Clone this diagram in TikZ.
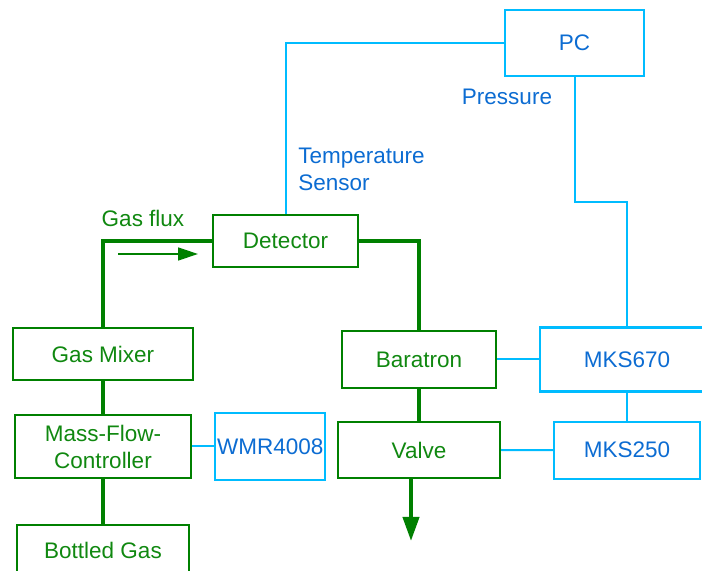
\documentclass[tikz,border=0pt]{standalone}
\usepackage{fontspec}
\setmainfont{Liberation Sans}
\usetikzlibrary{arrows.meta, positioning}
\definecolor{boxgreen}{RGB}{0,128,0}
\definecolor{txtgreen}{RGB}{16,136,16}
\definecolor{boxblue}{RGB}{0,188,255}
\definecolor{txtblue}{RGB}{12,108,210}

\begin{document}
\begin{tikzpicture}[
      x=0.5pt, y=-0.5pt,
      font=\fontsize{11.25}{13.5}\selectfont,
      gasbox/.style={rectangle, draw=boxgreen, line width=1pt, text=txtgreen, align=center, inner sep=1pt},
      ctrlbox/.style={rectangle, draw=boxblue, line width=1.1pt, text=txtblue, align=center, inner sep=1pt},
      pipe/.style={draw=boxgreen, line width=2pt},
      wire/.style={draw=boxblue, line width=1pt},
      flowarrow/.style={-{Triangle[length=10pt, width=6.5pt]}, draw=boxgreen, line width=0.7pt, fill=boxgreen}
    ]
    \useasboundingbox (0,0) rectangle (702,571);

    \node[ctrlbox, minimum width=69.5pt, minimum height=33pt] (pc) at (574.5,43) {PC};
    \node[gasbox, minimum width=72.5pt, minimum height=26pt] (det) at (285.5,241) {Detector};
    \node[gasbox, minimum width=90pt, minimum height=26pt] (mixer) at (103,354) {Gas Mixer};
    \node[gasbox, minimum width=88pt, minimum height=31.5pt, below=16.5pt of mixer] (mfc) {Mass-Flow-\\Controller};
    \node[gasbox, minimum width=86pt, minimum height=25pt, below=22.5pt of mfc] (bottle) {Bottled Gas};
    \node[ctrlbox, minimum width=55pt, minimum height=33.5pt, right=11pt of mfc] (wmr) {WMR4008};
    \node[gasbox, minimum width=77pt, minimum height=28.5pt] (bar) at (419,359.5) {Baratron};
    \node[gasbox, minimum width=81pt, minimum height=28pt, below=16pt of bar] (valve) {Valve};
    \node[ctrlbox, minimum width=87pt, minimum height=32pt, right=21pt of bar] (mks670) {MKS670};
    \node[ctrlbox, minimum width=73pt, minimum height=28.5pt, below=14pt of mks670] (mks250) {MKS250};

    \node[text=txtblue] (press) at (507,97) {Pressure};
    \node[text=txtblue, align=left, anchor=west, inner sep=0pt] (temp) at (298,169) {Temperature\\Sensor};
    \node[text=txtgreen] (flux) at (143,218) {Gas flux};
    \coordinate (fluxa) at (118,254);
    \coordinate (fluxb) at (198,254);
    \coordinate (exit) at (411,541);

    \draw[wire] (pc.west) -| (det.north);
    \draw[wire] (pc.south) -- ++(0,125) -| (mks670.north);
    \draw[wire] (mfc.east) -- (wmr.west);
    \draw[wire] (bar.east) -- (mks670.west);
    \draw[wire] (valve.east) -- (mks250.west);
    \draw[wire] (mks670.south) -- (mks250.north);

    \draw[pipe] (mixer.north) |- (det.west);
    \draw[pipe] (det.east) -| (bar.north);
    \draw[pipe] (mixer.south) -- (mfc.north);
    \draw[pipe] (mfc.south) -- (bottle.north);
    \draw[pipe] (bar.south) -- (valve.north);
    \draw[pipe, -{Triangle[length=12pt, width=8pt]}] ([xshift=-4pt]valve.south) -- (exit);
    \draw[flowarrow] (fluxa) -- (fluxb);
  \end{tikzpicture}
\end{document}
